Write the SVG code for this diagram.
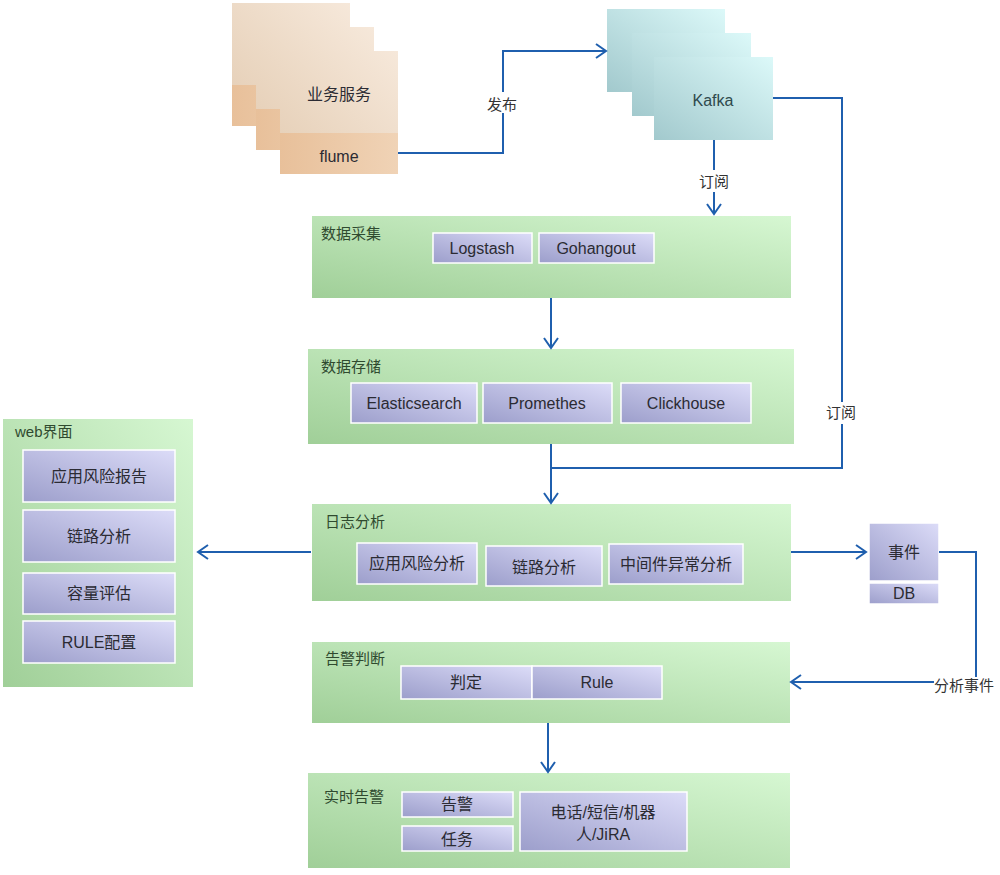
<svg xmlns="http://www.w3.org/2000/svg" width="1000" height="875" viewBox="0 0 1000 875">
<defs>
<linearGradient id="gGreen" x1="0" y1="1" x2="1" y2="0"><stop offset="0" stop-color="#a0cf98"/><stop offset="1" stop-color="#d6f7d2"/></linearGradient>
<linearGradient id="gPurple" x1="0" y1="1" x2="1" y2="0"><stop offset="0" stop-color="#9c9ecb"/><stop offset="1" stop-color="#dcdcf8"/></linearGradient>
<linearGradient id="gBeige" x1="0" y1="1" x2="1" y2="0"><stop offset="0" stop-color="#e4cdb4"/><stop offset="1" stop-color="#f6e8da"/></linearGradient>
<linearGradient id="gBand" x1="0" y1="0" x2="1" y2="0"><stop offset="0" stop-color="#e8c09a"/><stop offset="1" stop-color="#f0d3b6"/></linearGradient>
<linearGradient id="gTeal" x1="0" y1="1" x2="1" y2="0"><stop offset="0" stop-color="#a2c9cd"/><stop offset="1" stop-color="#dcf9f9"/></linearGradient>
<marker id="arr" markerUnits="userSpaceOnUse" markerWidth="14" markerHeight="16" refX="11" refY="8" orient="auto">
<path d="M1,1 L11,8 L1,15" fill="none" stroke="#1f5fae" stroke-width="2"/>
</marker>
<style>
.layer{fill:url(#gGreen)}
.item{fill:url(#gPurple);stroke:#ffffff;stroke-width:1.5}
.t{font-family:"Liberation Sans","Noto Sans CJK SC",sans-serif;font-size:16px;fill:#2b2b33;text-anchor:middle}
.title{font-family:"Liberation Sans","Noto Sans CJK SC",sans-serif;font-size:15px;fill:#2f4a2f}
.lbl{font-family:"Liberation Sans","Noto Sans CJK SC",sans-serif;font-size:15px;fill:#333;text-anchor:middle}
.c{fill:none;stroke:#1f5fae;stroke-width:2}
</style>
</defs>
<rect width="1000" height="875" fill="#ffffff"/>

<g id="business">
<rect x="232" y="3" width="118" height="123" fill="url(#gBeige)"/>
<rect x="232" y="85" width="118" height="41" fill="url(#gBand)"/>
<rect x="256" y="27" width="118" height="123" fill="url(#gBeige)"/>
<rect x="256" y="109" width="118" height="41" fill="url(#gBand)"/>
<rect x="280" y="51" width="118" height="123" fill="url(#gBeige)"/>
<rect x="280" y="133" width="118" height="41" fill="url(#gBand)"/>
<text class="t" x="339" y="100">业务服务</text>
<text class="t" x="339" y="162">flume</text>
</g>

<g id="kafka">
<rect x="607" y="9" width="118" height="83" fill="url(#gTeal)"/>
<rect x="632" y="33" width="119" height="83" fill="url(#gTeal)"/>
<rect x="654" y="57" width="119" height="83" fill="url(#gTeal)"/>
<text class="t" x="713" y="106" style="fill:#2f4a4d">Kafka</text>
</g>

<g id="collect">
<rect class="layer" x="312" y="216" width="479" height="82"/>
<text class="title" x="321" y="239">数据采集</text>
<rect class="item" x="433" y="233" width="99" height="30"/>
<text class="t" x="482" y="254">Logstash</text>
<rect class="item" x="539" y="233" width="115" height="30"/>
<text class="t" x="596" y="254">Gohangout</text>
</g>

<g id="storage">
<rect class="layer" x="308" y="349" width="486" height="95"/>
<text class="title" x="321" y="372">数据存储</text>
<rect class="item" x="351" y="383" width="126" height="40"/>
<text class="t" x="414" y="409">Elasticsearch</text>
<rect class="item" x="483" y="383" width="129" height="40"/>
<text class="t" x="547" y="409">Promethes</text>
<rect class="item" x="621" y="383" width="130" height="40"/>
<text class="t" x="686" y="409">Clickhouse</text>
</g>

<g id="analysis">
<rect class="layer" x="312" y="504" width="479" height="97"/>
<text class="title" x="325" y="527">日志分析</text>
<rect class="item" x="357" y="543" width="120" height="41"/>
<text class="t" x="417" y="569">应用风险分析</text>
<rect class="item" x="486" y="546" width="116" height="40"/>
<text class="t" x="544" y="573">链路分析</text>
<rect class="item" x="609" y="544" width="134" height="40"/>
<text class="t" x="676" y="570">中间件异常分析</text>
</g>

<g id="judge">
<rect class="layer" x="312" y="642" width="478" height="81"/>
<text class="title" x="325" y="664">告警判断</text>
<rect class="item" x="401" y="666" width="131" height="33"/>
<text class="t" x="466" y="688">判定</text>
<rect class="item" x="532" y="666" width="130" height="33"/>
<text class="t" x="597" y="688">Rule</text>
</g>

<g id="alert">
<rect class="layer" x="308" y="773" width="482" height="95"/>
<text class="title" x="324" y="802">实时告警</text>
<rect class="item" x="402" y="792" width="111" height="25"/>
<text class="t" x="457" y="810">告警</text>
<rect class="item" x="402" y="826" width="111" height="25"/>
<text class="t" x="457" y="845">任务</text>
<rect class="item" x="520" y="792" width="167" height="59"/>
<text class="t" x="603" y="818">电话/短信/机器</text>
<text class="t" x="603" y="840">人/JiRA</text>
</g>

<g id="web">
<rect class="layer" x="3" y="419" width="190" height="268"/>
<text class="title" x="15" y="437">web界面</text>
<rect class="item" x="23" y="450" width="152" height="52"/>
<text class="t" x="99" y="482">应用风险报告</text>
<rect class="item" x="23" y="510" width="152" height="52"/>
<text class="t" x="99" y="542">链路分析</text>
<rect class="item" x="23" y="573" width="152" height="41"/>
<text class="t" x="99" y="599">容量评估</text>
<rect class="item" x="23" y="621" width="152" height="42"/>
<text class="t" x="99" y="648">RULE配置</text>
</g>

<g id="event">
<rect class="item" x="869" y="523" width="70" height="58"/>
<text class="t" x="904" y="558">事件</text>
<rect class="item" x="869" y="583" width="70" height="21"/>
<text class="t" x="904" y="599">DB</text>
</g>

<g id="connectors">
<path class="c" d="M398,153 H503 V113"/>
<path class="c" d="M503,92 V51 H606" marker-end="url(#arr)"/>
<text class="lbl" x="502" y="110">发布</text>
<path class="c" d="M714,140 V170"/>
<path class="c" d="M714,192 V214" marker-end="url(#arr)"/>
<text class="lbl" x="714" y="187">订阅</text>
<path class="c" d="M773,98 H842 V402"/>
<path class="c" d="M842,424 V468 H551"/>
<text class="lbl" x="841" y="418">订阅</text>
<path class="c" d="M551,298 V348" marker-end="url(#arr)"/>
<path class="c" d="M551,444 V503" marker-end="url(#arr)"/>
<path class="c" d="M311,552 H198" marker-end="url(#arr)"/>
<path class="c" d="M791,552 H866" marker-end="url(#arr)"/>
<path class="c" d="M939,552 H976 V677"/>
<path class="c" d="M934,682 H791" marker-end="url(#arr)"/>
<text class="lbl" x="964" y="691">分析事件</text>
<path class="c" d="M548,723 V772" marker-end="url(#arr)"/>
</g>
</svg>
